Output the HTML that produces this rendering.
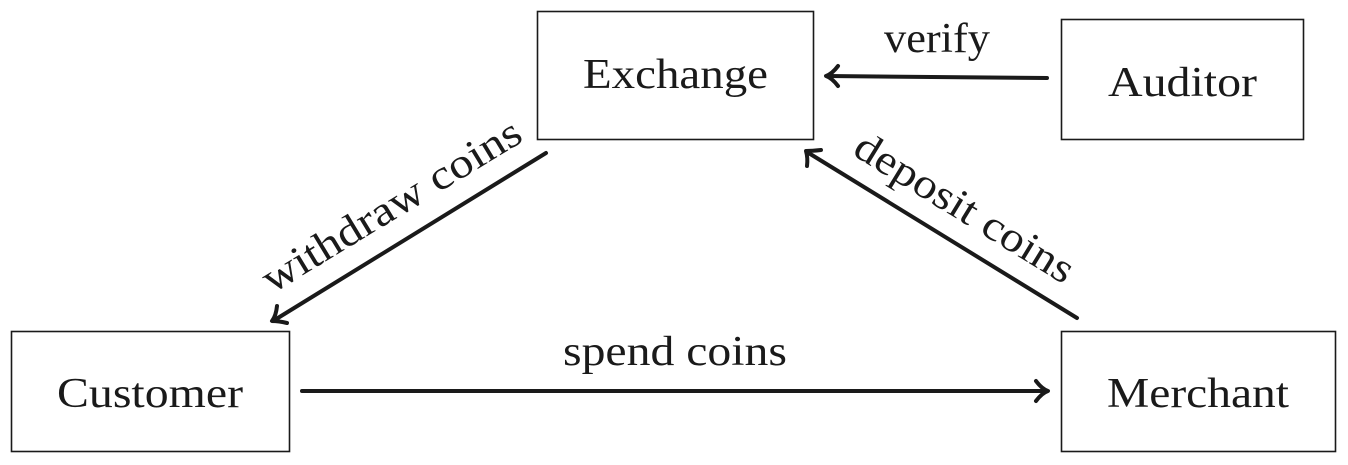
<!DOCTYPE html>
<html><head><meta charset="utf-8"><style>
html,body{margin:0;padding:0;background:#fff;}
svg{display:block;}
text{font-family:"Liberation Serif",serif;font-size:42px;fill:#1a1a1a;}
</style></head><body>
<svg width="1348" height="465" viewBox="0 0 1348 465" xmlns="http://www.w3.org/2000/svg">
<g fill="none" stroke="#1a1a1a" stroke-width="1.6">
<rect x="537.5" y="11.5" width="276" height="128"/>
<rect x="1061.5" y="19.5" width="242" height="120"/>
<rect x="11.5" y="331.5" width="278" height="120"/>
<rect x="1061.5" y="331.5" width="274" height="120"/>
</g>
<g fill="none" stroke="#1a1a1a" stroke-width="4" stroke-linecap="round" stroke-linejoin="round">
<line x1="1047" y1="78" x2="827" y2="76"/>
<path d="M838,66 Q832,74 826,76 Q832,78 838,86"/>
<line x1="546" y1="153" x2="273" y2="321"/>
<path d="M277,306 Q276,316 272,321 Q279,321 287,323"/>
<line x1="1077" y1="318" x2="807" y2="152"/>
<path d="M821,150 Q812,151 806,151 Q808,158 807,166"/>
<line x1="302" y1="391" x2="1046" y2="391"/>
<path d="M1036,381 Q1042,389 1048,391 Q1042,393 1036,401"/>
</g>
<text x="583" y="88" textLength="185" lengthAdjust="spacingAndGlyphs">Exchange</text>
<text x="1108" y="96" textLength="149" lengthAdjust="spacingAndGlyphs">Auditor</text>
<text x="57" y="407" textLength="186" lengthAdjust="spacingAndGlyphs">Customer</text>
<text x="1107" y="407" textLength="182" lengthAdjust="spacingAndGlyphs">Merchant</text>
<text x="563" y="365" textLength="224" lengthAdjust="spacingAndGlyphs">spend coins</text>
<text x="884" y="52" textLength="106" lengthAdjust="spacingAndGlyphs">verify</text>
<text transform="translate(272,294) rotate(-31.3)" textLength="296" lengthAdjust="spacingAndGlyphs">withdraw coins</text>
<text transform="translate(851,154) rotate(31.5)" textLength="250" lengthAdjust="spacingAndGlyphs">deposit coins</text>
</svg>
</body></html>
